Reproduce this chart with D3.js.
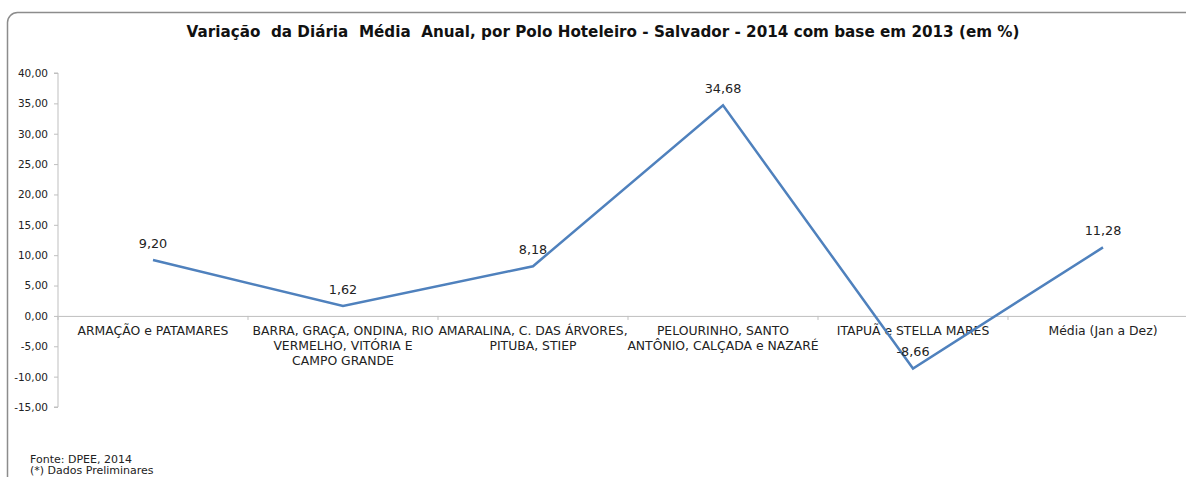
<!DOCTYPE html>
<html>
<head>
<meta charset="utf-8">
<script src="https://cdn.jsdelivr.net/npm/d3@7"></script>
<style>
  body { margin: 0; background: #fff; }
  svg { font-family: "DejaVu Sans", "Open Sans", sans-serif; }
</style>
</head>
<body>
<div id="chart"></div>
<script>
// data (category names split where the chart breaks them)
const categories = [
  ["ARMAÇÃO e PATAMARES"],
  ["BARRA, GRAÇA, ONDINA, RIO", "VERMELHO, VITÓRIA E", "CAMPO GRANDE"],
  ["AMARALINA, C. DAS ÁRVORES,", "PITUBA, STIEP"],
  ["PELOURINHO, SANTO", "ANTÔNIO, CALÇADA e NAZARÉ"],
  ["ITAPUÃ e STELLA MARES"],
  ["Média (Jan a Dez)"]
];
const values = [9.20, 1.62, 8.18, 34.68, -8.66, 11.28];
const yTicks = [40, 35, 30, 25, 20, 15, 10, 5, 0, -5, -10, -15];
const title = "Variação  da Diária  Média  Anual, por Polo Hoteleiro - Salvador - 2014 com base em 2013 (em %)";
const notes = ["Fonte: DPEE, 2014", "(*) Dados Preliminares"];

const width = 1186, height = 477;
const fmt = v => v.toFixed(2).replace(".", ",");
const names = categories.map(c => c.join(" "));

const svg = d3.select("#chart")
  .append("svg")
  .attr("width", width)
  .attr("height", height);

// chart frame (runs off the right and bottom edges)
svg.append("rect")
  .attr("x", 7.5).attr("y", 12.5)
  .attr("width", 1200).attr("height", 480)
  .attr("rx", 10)
  .attr("fill", "none")
  .attr("stroke", "#8c8c8c")
  .attr("stroke-width", 1.5);

svg.append("text")
  .attr("x", 603).attr("y", 37)
  .attr("text-anchor", "middle")
  .attr("font-size", 15.2)
  .attr("font-weight", "bold")
  .attr("fill", "#111")
  .style("white-space", "pre")
  .text(title);

let x = d3.scaleBand()
  .domain(names)
  .range([58, 1198]);

let y = d3.scaleLinear()
  .domain([-15, 40])
  .range([407, 73]);

// y axis
let yAxis = svg.append("g")
  .attr("transform", "translate(58,0)")
  .call(d3.axisLeft(y).tickValues(yTicks).tickSize(4).tickFormat(fmt));
yAxis.select(".domain").attr("stroke", "#bfbfbf").attr("d", "M-4," + y(40) + "H0V" + y(-15) + "H-4");
yAxis.selectAll(".tick line").attr("stroke", "#bfbfbf");
yAxis.selectAll(".tick text")
  .attr("font-size", 10.5)
  .attr("font-family", "DejaVu Sans, sans-serif")
  .attr("fill", "#222")
  .attr("x", -10);

// x axis at zero
let xAxis = svg.append("g")
  .attr("transform", "translate(0," + y(0) + ")")
  .call(d3.axisBottom(x).tickSize(0).tickFormat(""));
xAxis.select(".domain").attr("stroke", "#bfbfbf");
xAxis.selectAll(".tick").remove();

let bounds = x.domain().map(c => x(c)).concat([x.range()[1]]);
svg.selectAll(".xtick")
  .data(bounds)
  .enter()
  .append("line")
  .attr("x1", d => d).attr("x2", d => d)
  .attr("y1", y(0)).attr("y2", y(0) + 4)
  .attr("stroke", "#bfbfbf");

// category labels
let cats = svg.selectAll(".cat")
  .data(categories)
  .enter()
  .append("text")
  .attr("class", "cat")
  .attr("y", y(0) + 19)
  .attr("text-anchor", "middle")
  .attr("font-size", 12.4)
  .attr("fill", "#222");

cats.selectAll("tspan")
  .data((d, i) => d.map(t => ({ t: t, cx: x(names[i]) + x.bandwidth() / 2 })))
  .enter()
  .append("tspan")
  .attr("x", d => d.cx)
  .attr("dy", (d, i) => i === 0 ? 0 : 15)
  .text(d => d.t);

// line
const pts = names.map((c, i) => ({ c: c, v: values[i] }));
let line = d3.line()
  .x(d => x(d.c) + x.bandwidth() / 2)
  .y(d => y(d.v));

svg.append("path")
  .datum(pts)
  .attr("d", line)
  .attr("fill", "none")
  .attr("stroke", "#4f81bd")
  .attr("stroke-width", 2.5);

svg.selectAll(".lbl")
  .data(pts)
  .enter()
  .append("text")
  .attr("x", d => x(d.c) + x.bandwidth() / 2)
  .attr("y", d => y(d.v) - 12)
  .attr("text-anchor", "middle")
  .attr("font-size", 12.8)
  .attr("fill", "#222")
  .text(d => fmt(d.v));

// footnotes
svg.selectAll(".note")
  .data(notes)
  .enter()
  .append("text")
  .attr("x", 30)
  .attr("y", (d, i) => 463 + i * 11)
  .attr("font-size", 11)
  .attr("fill", "#222")
  .text(d => d);
</script>
</body>
</html>
